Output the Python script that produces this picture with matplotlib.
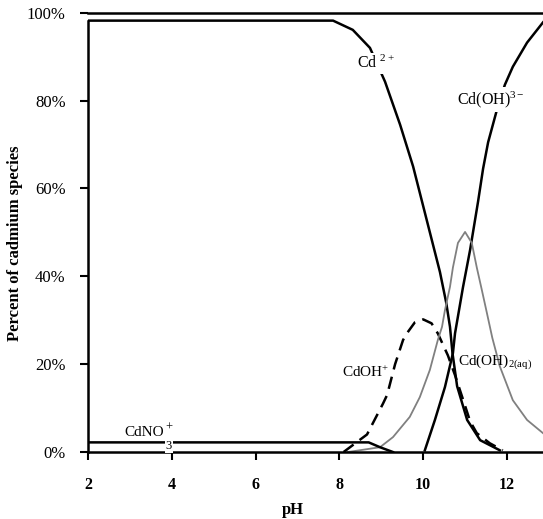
import matplotlib.pyplot as plt

plt.rcParams['font.family'] = 'Liberation Serif'
plt.rcParams['mathtext.fontset'] = 'custom'
plt.rcParams['mathtext.rm'] = 'Liberation Serif'
plt.rcParams['mathtext.it'] = 'Liberation Serif'

# values (pH, percent of cadmium species)
cd_ph = [2, 7.85, 8.32, 8.73, 9.09, 9.45, 9.76, 10.0, 10.2, 10.4, 10.55, 10.64,
         10.7, 10.81, 11.05, 11.36, 11.83]
cd_pct = [98.2, 98.2, 96.1, 92, 84.3, 74.5, 65, 56, 48.5, 41, 34, 28.5,
          22.5, 15, 7.3, 2.7, 0.4]

cdoh3_ph = [10.04, 10.28, 10.52, 10.71, 10.76, 10.95, 11.12, 11.31, 11.43, 11.55,
            11.76, 11.95, 12.14, 12.48, 12.86]
cdoh3_pct = [0.4, 7.3, 14.8, 22.5, 27, 37.5, 46, 57, 64.5, 70.5,
             77.9, 83.6, 87.7, 93.2, 97.8]

cdoh_ph = [8.1, 8.66, 9.04, 9.14, 9.33, 9.52, 9.61, 9.8, 10.0, 10.2, 10.35, 10.59,
           10.76, 10.95, 11.12, 11.28, 11.59, 11.9]
cdoh_pct = [0, 4, 11, 13, 20, 25.5, 27, 29.5, 30.2, 29.3, 27, 22,
            17.5, 12, 7, 4.3, 2, 0.4]

cdoh2_ph = [8.2, 8.97, 9.28, 9.68, 9.92, 10.16, 10.35, 10.45, 10.52, 10.64, 10.71, 10.83,
            11.0, 11.16, 11.28, 11.4, 11.52, 11.65, 11.83, 12.14, 12.48, 12.86]
cdoh2_pct = [0, 1.1, 3.4, 8, 12.5, 18.7, 25.5, 28.5, 32.3, 37.6, 42, 47.6,
             50.1, 47.6, 42, 36.9, 31.7, 26, 19.5, 11.8, 7.3, 4.3]

cdno3_ph = [2, 8.7, 8.97, 9.28]
cdno3_pct = [2.2, 2.2, 1.1, 0]

fig = plt.figure(figsize=(5.43, 5.19), dpi=100)
ax = fig.add_axes([0.162, 0.129, 0.838, 0.8465])

ax.plot(cd_ph, cd_pct, color='black', lw=1.8)
ax.plot(cdoh3_ph, cdoh3_pct, color='black', lw=1.8)
ax.plot(cdoh_ph, cdoh_pct, color='black', lw=1.8, ls=(0, (5, 3)))
ax.plot(cdoh2_ph, cdoh2_pct, color='#808080', lw=1.3)
ax.plot(cdno3_ph, cdno3_pct, color='black', lw=1.8)

box = dict(facecolor='white', edgecolor='none', pad=1.5)
ax.text(8.87, 88.4, r'Cd $\mathregular{^{2+}}$', ha='center', va='center', fontsize=11.5, bbox=box)
ax.text(11.62, 80.2, r'Cd(OH)$\mathregular{^{3-}}$', ha='center', va='center', fontsize=11.5, bbox=box)
ax.text(8.63, 18.2, r'CdOH$\mathregular{^{+}}$', ha='center', va='center', fontsize=11)
ax.text(10.83, 20.5, r'Cd(OH)$\mathregular{_{2(aq)}}$', ha='left', va='center', fontsize=11)
ax.text(2.88, 3.6, 'CdNO', ha='left', va='baseline', fontsize=11)
ax.text(3.93, 5.6, '+', ha='center', va='center', fontsize=9)
ax.text(3.93, 1.4, '3', ha='center', va='center', fontsize=9,
        bbox=dict(facecolor='white', edgecolor='none', pad=0.5))

ax.set_xlim(2, 12.86)
ax.set_ylim(0, 100)
ax.set_xticks([2, 4, 6, 8, 10, 12])
ax.set_yticks([0, 20, 40, 60, 80, 100])
ax.set_yticklabels(['0%', '20%', '40%', '60%', '80%', '100%'])
for lbl in ax.get_xticklabels():
    lbl.set_fontweight('bold')
ax.tick_params(direction='out', length=6, width=1.5, labelsize=11.5)
ax.tick_params(axis='x', pad=12)
ax.tick_params(axis='y', labelsize=12, pad=10)

ax.spines['right'].set_visible(False)
for s in ['left', 'bottom', 'top']:
    ax.spines[s].set_linewidth(1.8)
ax.spines['left'].set_bounds(0, 98.2)

ax.set_xlabel('pH', fontweight='bold', fontsize=12)
ax.set_ylabel('Percent of cadmium species', fontweight='bold', fontsize=12)
ax.xaxis.set_label_coords(0.45, -0.113)
ax.yaxis.set_label_coords(-0.142, 0.476)

fig.savefig('out.png', dpi=100)
